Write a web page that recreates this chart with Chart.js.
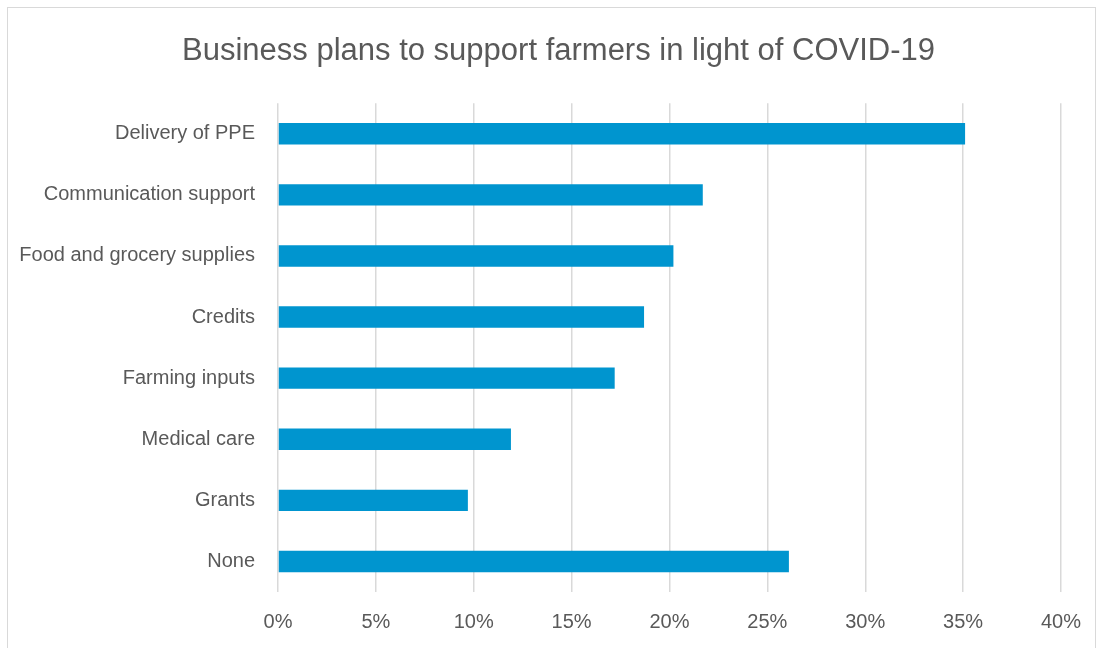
<!DOCTYPE html>
<html>
<head>
<meta charset="utf-8">
<script src="https://cdn.jsdelivr.net/npm/chart.js@4/dist/chart.umd.min.js"></script>
<style>
  html, body { margin: 0; padding: 0; background: #fff; }
  #wrap { position: relative; width: 1103px; height: 648px; overflow: hidden; }
  #frame { position: absolute; left: 7px; top: 7px; width: 1089px; height: 700px;
           border: 1.5px solid #d9d9d9; box-sizing: border-box; pointer-events: none; }
  #plans-chart { position: absolute; left: 0; top: 0; }
</style>
</head>
<body>
<div id="wrap">
  <canvas id="plans-chart" width="1103" height="648"></canvas>
  <div id="frame"></div>
</div>
<script>
// survey answers, share of businesses (%)
const categories = [
  "Delivery of PPE",
  "Communication support",
  "Food and grocery supplies",
  "Credits",
  "Farming inputs",
  "Medical care",
  "Grants",
  "None"
];
const shares = [35.1, 21.7, 20.2, 18.7, 17.2, 11.9, 9.7, 26.1];
const xTicks = [0, 5, 10, 15, 20, 25, 30, 35, 40];

const textGrey = '#595959';
const gridGrey = '#d9d9d9';
const font = 'Liberation Sans, Arial, sans-serif';

new Chart(document.getElementById("plans-chart"), {
  type: 'bar',
  data: {
    labels: categories,
    datasets: [{
      data: shares,
      backgroundColor: '#0095cf',
      barPercentage: 0.35,
      categoryPercentage: 1
    }]
  },
  options: {
    indexAxis: 'y',
    responsive: false,
    animation: false,
    layout: { padding: { left: 14, right: 0, top: 8, bottom: 0 } },
    plugins: {
      legend: { display: false },
      tooltip: { enabled: false },
      title: {
        display: true,
        text: 'Business plans to support farmers in light of COVID-19',
        color: textGrey,
        font: { family: font, size: 31, weight: 'normal' },
        padding: { top: 25, bottom: 33 }
      }
    },
    scales: {
      x: {
        min: xTicks[0],
        max: xTicks[xTicks.length - 1],
        afterBuildTicks: function (scale) {
          scale.ticks = xTicks.map(v => ({ value: v }));
        },
        // keep room on the right so the plot ends at 40%
        afterFit: function (scale) {
          scale.height = 56;
          scale.paddingRight = 42;
        },
        grid: { color: gridGrey, lineWidth: 1.5, drawTicks: false },
        border: { display: false },
        ticks: {
          color: textGrey,
          padding: 18,
          font: { family: font, size: 20 },
          callback: v => v + '%'
        }
      },
      y: {
        afterFit: function (scale) { scale.width = 264; },
        grid: { display: false, drawTicks: false },
        border: { display: false },
        ticks: {
          color: textGrey,
          padding: 23,
          font: { family: font, size: 20 }
        }
      }
    }
  }
});
</script>
</body>
</html>
